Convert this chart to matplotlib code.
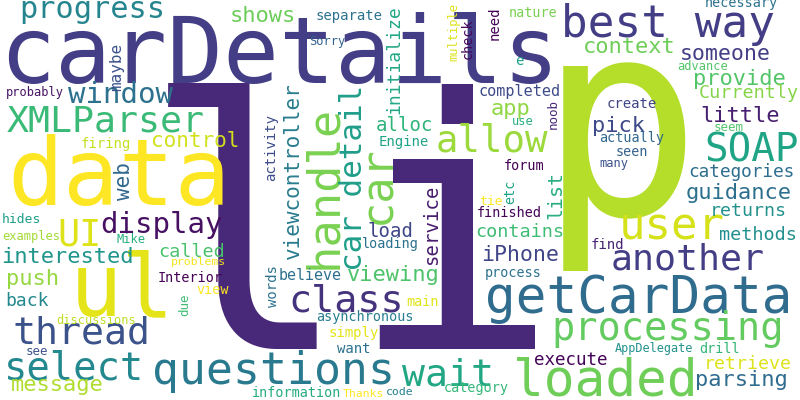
import matplotlib
matplotlib.use("Agg")
import matplotlib.pyplot as plt
from matplotlib.textpath import TextPath
from matplotlib.font_manager import FontProperties

# ---- data: words and their relative weights (font size ~ weight) ----
WORDS = [
    "li", "p", "carDetails", "data", "ul", "getCarData", "loaded", "handle",
    "questions", "car", "best way", "user", "processing", "SOAP", "allow",
    "thread", "select", "wait", "class", "UI", "XMLParser", "another",
    "car detail", "progress", "window", "display", "shows", "interested",
    "push", "message", "viewing", "context", "provide", "pick", "app",
    "little", "guidance", "parsing", "iPhone", "someone", "control",
    "viewcontroller", "list", "load", "service", "alloc", "initialize",
    "web", "Currently", "called", "contains", "methods", "returns", "back",
    "retrieve", "categories", "execute", "maybe", "completed", "believe",
    "separate", "firing", "Engine", "activity", "words", "simply", "want",
    "create", "find", "check", "need", "Interior", "view", "main",
    "asynchronous", "information", "category", "loading", "finished",
    "process", "forum", "necessary", "nature", "e", "actually", "seen",
    "drill", "etc", "hides", "tie", "see", "due", "noob", "seem", "Sorry",
    "probably", "examples", "Mike", "discussions", "many", "use",
    "advance", "multiple", "AppDelegate", "problems", "Thanks", "code",
]
WEIGHTS = [
    348, 280, 94, 95, 90, 51.5, 51, 48,
    45, 45, 44, 44, 38.5, 39, 38,
    38, 38, 38, 37, 37, 37, 37,
    31, 30, 30, 29, 22, 22,
    22, 22, 22, 22, 22, 22, 22,
    22, 22, 22, 21.5, 21.5, 21,
    21, 20, 19, 19, 19, 18,
    21, 18.5, 18.5, 18.5, 18.5, 18.3, 18,
    18.3, 17.7, 17.5, 16, 15.3, 15,
    14, 14, 14, 14, 14, 14, 14,
    14, 14, 13.5, 14, 13.5, 13.5, 13.5,
    13.5, 13.5, 13.5, 13.5, 13.5,
    13.5, 13.5, 13.5, 13.5, 14, 13.5, 13.5,
    13.5, 13.5, 13, 13, 12.5, 12.5, 12.5, 12.5, 12,
    12, 12, 12, 12, 12, 12,
    12, 12, 11.7, 11.5, 11.5, 11.5,
]

# ---- layout: (x, y, vertical) in pixel coords; horizontal -> ink-left/baseline,
#      vertical -> baseline-x / ink-start-y ----
LAYOUT = {
    "li": (168, 349, False), "p": (563, 215, False), "carDetails": (8, 83, False),
    "data": (13, 205, False), "ul": (78, 315, False), "getCarData": (488, 313, False),
    "loaded": (517, 395, False), "handle": (336, 265, True), "questions": (155, 384, False),
    "car": (390, 220, True), "best way": (565, 37, False), "user": (623, 240, False),
    "processing": (555, 340, False), "SOAP": (707, 161, False), "allow": (438, 152, False),
    "thread": (15, 343, False), "select": (8, 380, False), "wait": (402, 385, False),
    "class": (292, 311, False), "UI": (60, 245, False), "XMLParser": (7, 132, False),
    "another": (613, 270, False), "car detail": (362, 268, True), "progress": (22, 18, False),
    "window": (68, 103, False), "display": (102, 233, False), "shows": (232, 22, False),
    "interested": (3, 263, False), "push": (8, 285, False), "message": (12, 391, False),
    "viewing": (348, 281, False), "context": (585, 53, False), "provide": (695, 85, False),
    "pick": (594, 132, False), "app": (492, 115, False), "little": (702, 122, False),
    "guidance": (687, 199, False), "parsing": (697, 386, False), "iPhone": (483, 261, False),
    "someone": (682, 60, False), "control": (153, 147, False),
    "viewcontroller": (299, 258, True), "list": (561, 217, True), "load": (369, 237, False),
    "service": (437, 263, True), "alloc": (377, 131, False), "initialize": (399, 112, True),
    "web": (130, 200, True), "Currently": (700, 98, False), "called": (160, 257, False),
    "contains": (477, 237, False), "methods": (720, 240, False), "returns": (713, 216, False),
    "back": (7, 306, False), "retrieve": (707, 369, False), "categories": (690, 177, False),
    "execute": (535, 365, False), "maybe": (121, 90, True), "completed": (480, 96, False),
    "believe": (280, 280, False), "separate": (317, 20, False), "firing": (82, 148, False),
    "Engine": (380, 146, False), "activity": (275, 180, True), "words": (277, 307, True),
    "simply": (330, 337, False), "want": (337, 353, False), "create": (608, 108, False),
    "find": (592, 249, False), "check": (472, 58, True), "need": (499, 39, True),
    "Interior": (159, 282, False), "view": (197, 294, False), "main": (407, 306, False),
    "asynchronous": (317, 321, False), "information": (253, 397, False),
    "category": (445, 392, False), "loading": (363, 248, False), "finished": (478, 217, False),
    "process": (486, 277, False), "forum": (505, 170, False), "necessary": (706, 7, False),
    "nature": (510, 17, False), "e": (516, 65, False), "actually": (600, 142, False),
    "seen": (617, 156, False), "drill": (700, 353, False), "etc": (514, 203, True),
    "hides": (3, 223, False), "tie": (480, 205, False), "see": (27, 355, False),
    "due": (188, 315, True), "noob": (557, 128, True), "seem": (715, 131, False),
    "Sorry": (310, 45, False), "probably": (7, 96, False), "examples": (3, 240, False),
    "Mike": (117, 243, False), "discussions": (57, 324, False), "many": (600, 167, False),
    "use": (513, 125, False), "advance": (678, 70, False), "multiple": (457, 60, True),
    "AppDelegate": (615, 352, False), "problems": (172, 265, False),
    "Thanks": (343, 397, False), "code": (387, 395, False),
}

# ink extent along the text direction (px) for the big words
INK_LENGTH = {
    "p": 122, "carDetails": 542, "data": 210, "ul": 88,
    "getCarData": 300, "questions": 235, "loaded": 176, "best way": 208,
    "processing": 225, "user": 100, "another": 150, "SOAP": 90, "allow": 110,
    "thread": 132, "select": 132, "wait": 88, "class": 108, "UI": 38,
    "XMLParser": 196, "progress": 140, "window": 105,
    "handle": 157, "car": 73, "car detail": 181,
}

COLORS = {
    "li": "#482878", "p": "#b5de2b", "carDetails": "#433e85", "data": "#fde725",
    "ul": "#e5e419", "getCarData": "#2f6c8e", "loaded": "#6ece58", "handle": "#7ad151",
    "questions": "#297a8e", "car": "#7ad151", "best way": "#433e85", "user": "#d5e21a",
    "processing": "#63cb5f", "SOAP": "#20a486", "allow": "#9bd93c", "thread": "#3b528b",
    "select": "#23898e", "wait": "#22a785", "class": "#46337e", "UI": "#dde318",
    "XMLParser": "#3aba76", "another": "#433e85", "car detail": "#1f9e89",
    "progress": "#25858e", "window": "#2c728e", "display": "#471063", "shows": "#6ccd5a",
    "interested": "#1f958b", "push": "#95d840", "message": "#b0dd2f", "viewing": "#4ec36b",
    "context": "#6ece58", "provide": "#52c569", "pick": "#3e4a89", "app": "#8fd744",
    "little": "#481f70", "guidance": "#2d708e", "parsing": "#2f6c8e", "iPhone": "#404588",
    "someone": "#433e85", "control": "#d0e11c", "viewcontroller": "#287c8e",
    "list": "#29af7f", "load": "#3f4788", "service": "#481b6d", "alloc": "#2fb47c",
    "initialize": "#22a785", "web": "#31688e", "Currently": "#86d549", "called": "#4ac16d",
    "contains": "#3dbc74", "methods": "#218f8d", "returns": "#21918c", "back": "#23898e",
    "retrieve": "#dde318", "categories": "#2e6e8e", "execute": "#450559", "maybe": "#3b528b",
    "completed": "#3e4a89", "believe": "#2d708e", "separate": "#2c728e", "firing": "#c5e021",
    "Engine": "#20a386", "activity": "#3e4c8a", "words": "#2c728e", "simply": "#e5e419",
    "want": "#2c728e", "create": "#414487", "find": "#482475", "check": "#46085c",
    "need": "#440154", "Interior": "#440154", "view": "#fde725", "main": "#e2e418",
    "asynchronous": "#277f8e", "information": "#25ac82", "category": "#35b779",
    "loading": "#2c728e", "finished": "#450559", "process": "#2c728e", "forum": "#440154",
    "necessary": "#2c728e", "nature": "#7ad151", "e": "#1f9e89", "actually": "#31688e",
    "seen": "#33638d", "drill": "#35b779", "etc": "#20a386", "hides": "#1fa088",
    "tie": "#fde725", "see": "#3b528b", "due": "#3dbc74", "noob": "#482878",
    "seem": "#52c569", "Sorry": "#33638d", "probably": "#471365", "examples": "#a2da37",
    "Mike": "#29af7f", "discussions": "#bddf26", "many": "#3b528b", "use": "#29af7f",
    "advance": "#52c569", "multiple": "#dde318", "AppDelegate": "#21918c",
    "problems": "#f1e51d", "Thanks": "#fde725", "code": "#26828e",
}

FAMILY = "DejaVu Sans Mono"
FP = FontProperties(family=FAMILY)
DPI = 100


def ink_extent(word, size):
    ext = TextPath((0, 0), word, size=size, prop=FP).get_extents()
    return ext.x0, ext.x1


fig = plt.figure(figsize=(8, 4), dpi=DPI)
fig.patch.set_facecolor("white")
ax = fig.add_axes([0, 0, 1, 1])
ax.set_xlim(0, 800)
ax.set_ylim(400, 0)
ax.axis("off")

for word, w in zip(WORDS, WEIGHTS):
    x, y, vertical = LAYOUT[word]
    size = w
    if word in INK_LENGTH:
        a, b = ink_extent(word, 100.0)
        size = 100.0 * INK_LENGTH[word] / (b - a)
    lsb, _ = ink_extent(word, size)
    if vertical:
        tx, ty = x, y + lsb
    else:
        tx, ty = x - lsb, y
    ax.text(tx, ty, word, fontsize=size * 72.0 / DPI, family=FAMILY,
            color=COLORS[word], ha="left", va="baseline",
            rotation=90 if vertical else 0, rotation_mode="anchor")

fig.savefig("out.png", dpi=DPI, facecolor="white")
